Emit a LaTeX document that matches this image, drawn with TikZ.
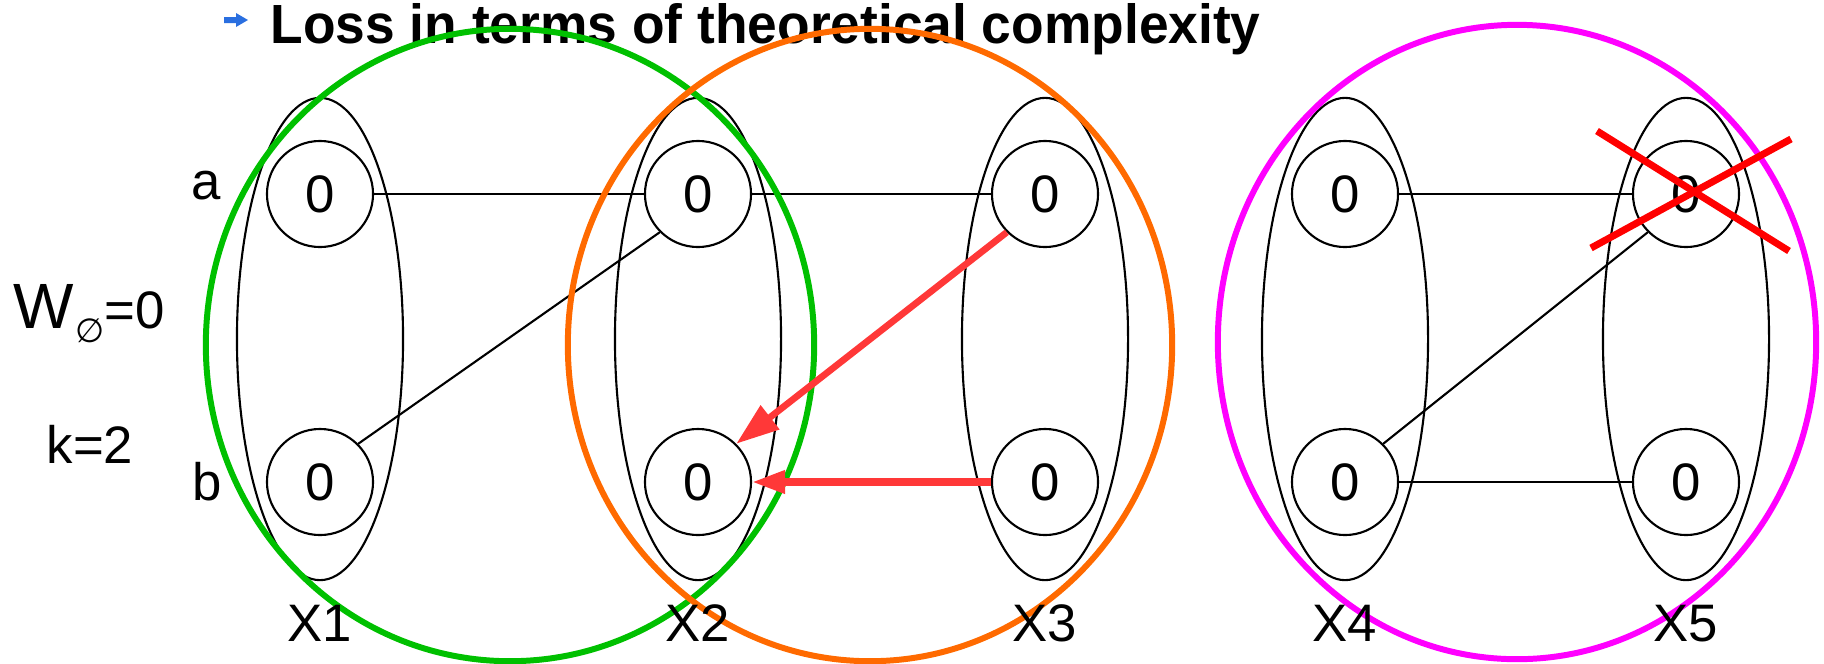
\documentclass[tikz,border=0pt]{standalone}
\usepackage{fontspec}
\setmainfont{Liberation Sans}
\newfontfamily\dejavu{DejaVu Sans}
\usetikzlibrary{arrows.meta}
\definecolor{myred}{HTML}{FF3838}
\definecolor{xred}{HTML}{FF0000}
\definecolor{mygreen}{HTML}{00C000}
\definecolor{myorange}{HTML}{FF6A00}
\definecolor{mymagenta}{HTML}{FF00FF}
\definecolor{bulletblue}{HTML}{2A6FE0}
\begin{document}
\begin{tikzpicture}[x=0.01cm,y=-0.01cm,
  state/.style={circle,draw,line width=0.6pt,minimum size=1.06cm,inner sep=0pt,font=\fontsize{15}{18}\selectfont},
  group/.style={line width=0.6pt},
  lbl/.style={font=\fontsize{15}{18}\selectfont,inner sep=0pt},
  link/.style={line width=0.6pt},
  redarrow/.style={draw=myred},
  cluster/.style={line width=1.7pt},
  cross/.style={draw=xred,line width=2pt}]
\useasboundingbox (0,0) rectangle (1824,663);
% title
\fill[bulletblue] (224,17) -- (236,17) -- (236,13) -- (248,20) -- (236,27) -- (236,23) -- (224,23) -- cycle;
\node[anchor=base west,inner sep=0pt,font=\fontsize{15.7}{18}\selectfont\bfseries] (title) at (270,43) {\scalebox{0.966}[1]{Loss in terms of theoretical complexity}};
% groups
\foreach \cx in {320,698,1045,1345,1686}
  \draw[group] (\cx,339) ellipse [x radius=0.83cm, y radius=2.41cm];
% nodes
\node[state] (x1a) at (320,194) {0};
\node[state] (x1b) at (320,482) {0};
\node[state] (x2a) at (698,194) {0};
\node[state] (x2b) at (698,482) {0};
\node[state] (x3a) at (1045,194) {0};
\node[state] (x3b) at (1045,482) {0};
\node[state] (x4a) at (1345,194) {0};
\node[state] (x4b) at (1345,482) {0};
\node[state] (x5a) at (1686,194) {0};
\node[state] (x5b) at (1686,482) {0};
% links
\draw[link] (x1a.east) -- (x2a.west);
\draw[link] (x2a.east) -- (x3a.west);
\draw[link] (x2a.south west) -- (x1b.north east);
\draw[link] (x4a.east) -- (x5a.west);
\draw[link] (x5a.south west) -- (x4b.north east);
\draw[link] (x4b.east) -- (x5b.west);
% clusters
\draw[cluster,mygreen] (510,345) ellipse [x radius=3.04cm, y radius=3.16cm];
\draw[cluster,myorange] (870,345) ellipse [x radius=3.02cm, y radius=3.16cm];
\draw[cluster,mymagenta] (1517,342) ellipse [x radius=2.99cm, y radius=3.17cm];
% red arrows
\draw[redarrow,line width=1.9pt,-{Triangle[length=4.3mm,width=2.9mm]}] (x3a.south west) -- (x2b.north east);
\draw[redarrow,line width=2pt,-{Triangle[length=3.3mm,width=2.2mm]}] (x3b.west) -- (x2b.east);
% cross
\draw[cross] (1597,131) -- (1789,251);
\draw[cross] (1591,248) -- (1791,139);
% labels
\node[lbl,anchor=base] (la) at (206,199) {a};
\node[lbl,anchor=base] (lb) at (207,500) {b};
\node[anchor=base west,inner sep=0pt,font=\fontsize{18.2}{20}\selectfont] (w) at (13,328) {W\kern0.5pt\raisebox{-4pt}{\dejavu\fontsize{9.5}{10}\selectfont ∅}{\fontsize{15}{18}\selectfont =0}};
\node[lbl,anchor=base west] (k) at (46,463) {k=2};
\node[lbl,anchor=base] (l1) at (320,641) {X1};
\node[lbl,anchor=base] (l2) at (698,641) {X2};
\node[lbl,anchor=base] (l3) at (1045,641) {X3};
\node[lbl,anchor=base] (l4) at (1345,641) {X4};
\node[lbl,anchor=base] (l5) at (1686,641) {X5};
\end{tikzpicture}
\end{document}
